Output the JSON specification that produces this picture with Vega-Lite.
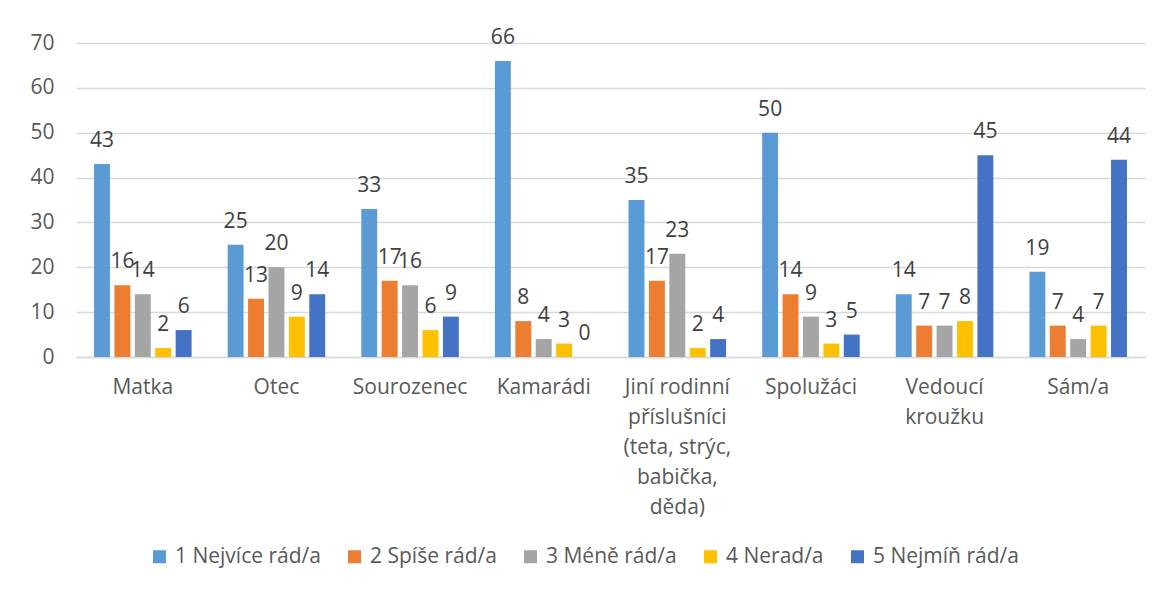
{
  "$schema": "https://vega.github.io/schema/vega-lite/v6.json",
  "width": 1069,
  "height": 314,
  "autosize": {"type": "none"},
  "padding": {"left": 76, "top": 43, "right": 18, "bottom": 233},
  "background": "white",
  "config": {
    "font": "Open Sans",
    "view": {"stroke": null}
  },
  "data": {
    "values": [
      {"kategorie": "Matka", "skupina": "1 Nejvíce rád/a", "pocet": 43},
      {"kategorie": "Matka", "skupina": "2 Spíše rád/a", "pocet": 16},
      {"kategorie": "Matka", "skupina": "3 Méně rád/a", "pocet": 14},
      {"kategorie": "Matka", "skupina": "4 Nerad/a", "pocet": 2},
      {"kategorie": "Matka", "skupina": "5 Nejmíň rád/a", "pocet": 6},
      {"kategorie": "Otec", "skupina": "1 Nejvíce rád/a", "pocet": 25},
      {"kategorie": "Otec", "skupina": "2 Spíše rád/a", "pocet": 13},
      {"kategorie": "Otec", "skupina": "3 Méně rád/a", "pocet": 20},
      {"kategorie": "Otec", "skupina": "4 Nerad/a", "pocet": 9},
      {"kategorie": "Otec", "skupina": "5 Nejmíň rád/a", "pocet": 14},
      {"kategorie": "Sourozenec", "skupina": "1 Nejvíce rád/a", "pocet": 33},
      {"kategorie": "Sourozenec", "skupina": "2 Spíše rád/a", "pocet": 17},
      {"kategorie": "Sourozenec", "skupina": "3 Méně rád/a", "pocet": 16},
      {"kategorie": "Sourozenec", "skupina": "4 Nerad/a", "pocet": 6},
      {"kategorie": "Sourozenec", "skupina": "5 Nejmíň rád/a", "pocet": 9},
      {"kategorie": "Kamarádi", "skupina": "1 Nejvíce rád/a", "pocet": 66},
      {"kategorie": "Kamarádi", "skupina": "2 Spíše rád/a", "pocet": 8},
      {"kategorie": "Kamarádi", "skupina": "3 Méně rád/a", "pocet": 4},
      {"kategorie": "Kamarádi", "skupina": "4 Nerad/a", "pocet": 3},
      {"kategorie": "Kamarádi", "skupina": "5 Nejmíň rád/a", "pocet": 0},
      {"kategorie": "Jiní rodinní příslušníci (teta, strýc, babička, děda)", "skupina": "1 Nejvíce rád/a", "pocet": 35},
      {"kategorie": "Jiní rodinní příslušníci (teta, strýc, babička, děda)", "skupina": "2 Spíše rád/a", "pocet": 17},
      {"kategorie": "Jiní rodinní příslušníci (teta, strýc, babička, děda)", "skupina": "3 Méně rád/a", "pocet": 23},
      {"kategorie": "Jiní rodinní příslušníci (teta, strýc, babička, děda)", "skupina": "4 Nerad/a", "pocet": 2},
      {"kategorie": "Jiní rodinní příslušníci (teta, strýc, babička, děda)", "skupina": "5 Nejmíň rád/a", "pocet": 4},
      {"kategorie": "Spolužáci", "skupina": "1 Nejvíce rád/a", "pocet": 50},
      {"kategorie": "Spolužáci", "skupina": "2 Spíše rád/a", "pocet": 14},
      {"kategorie": "Spolužáci", "skupina": "3 Méně rád/a", "pocet": 9},
      {"kategorie": "Spolužáci", "skupina": "4 Nerad/a", "pocet": 3},
      {"kategorie": "Spolužáci", "skupina": "5 Nejmíň rád/a", "pocet": 5},
      {"kategorie": "Vedoucí kroužku", "skupina": "1 Nejvíce rád/a", "pocet": 14},
      {"kategorie": "Vedoucí kroužku", "skupina": "2 Spíše rád/a", "pocet": 7},
      {"kategorie": "Vedoucí kroužku", "skupina": "3 Méně rád/a", "pocet": 7},
      {"kategorie": "Vedoucí kroužku", "skupina": "4 Nerad/a", "pocet": 8},
      {"kategorie": "Vedoucí kroužku", "skupina": "5 Nejmíň rád/a", "pocet": 45},
      {"kategorie": "Sám/a", "skupina": "1 Nejvíce rád/a", "pocet": 19},
      {"kategorie": "Sám/a", "skupina": "2 Spíše rád/a", "pocet": 7},
      {"kategorie": "Sám/a", "skupina": "3 Méně rád/a", "pocet": 4},
      {"kategorie": "Sám/a", "skupina": "4 Nerad/a", "pocet": 7},
      {"kategorie": "Sám/a", "skupina": "5 Nejmíň rád/a", "pocet": 44}
    ]
  },
  "encoding": {
    "x": {
      "field": "kategorie",
      "type": "nominal",
      "sort": null,
      "scale": {"paddingInner": 0.27, "paddingOuter": 0.135},
      "axis": {
        "title": null,
        "labelAngle": 0,
        "labelFont": "Open Sans",
        "labelFontSize": 21,
        "labelColor": "#595959",
        "labelLineHeight": 30,
        "labelPadding": 19,
        "labelBaseline": "top",
        "labelLimit": 300,
        "ticks": false,
        "domainColor": "#d9d9d9",
        "domainWidth": 1.5,
        "labelExpr": "datum.value == 'Jiní rodinní příslušníci (teta, strýc, babička, děda)' ? ['Jiní rodinní', 'příslušníci', '(teta, strýc,', 'babička,', 'děda)'] : datum.value == 'Vedoucí kroužku' ? ['Vedoucí', 'kroužku'] : datum.value"
      }
    },
    "xOffset": {
      "field": "skupina",
      "type": "nominal",
      "scale": {"paddingInner": 0.22}
    },
    "y": {
      "field": "pocet",
      "type": "quantitative",
      "scale": {"domain": [0, 70]},
      "axis": {
        "title": null,
        "values": [0, 10, 20, 30, 40, 50, 60, 70],
        "labelFont": "Open Sans",
        "labelFontSize": 21,
        "labelColor": "#595959",
        "labelPadding": 22,
        "ticks": false,
        "domain": false,
        "gridColor": "#d9d9d9",
        "gridWidth": 1.5
      }
    }
  },
  "layer": [
    {
      "mark": {"type": "bar"},
      "encoding": {
        "color": {
          "field": "skupina",
          "type": "nominal",
          "scale": {
            "domain": ["1 Nejvíce rád/a", "2 Spíše rád/a", "3 Méně rád/a", "4 Nerad/a", "5 Nejmíň rád/a"],
            "range": ["#5B9BD5", "#ED7D31", "#A5A5A5", "#FFC000", "#4472C4"]
          },
          "legend": {
            "title": null,
            "orient": "none",
            "direction": "horizontal",
            "legendX": 73,
            "legendY": 503,
            "symbolType": "square",
            "symbolSize": 169,
            "symbolStrokeWidth": 0,
            "symbolOpacity": 1,
            "labelFont": "Open Sans",
            "labelFontSize": 21,
            "labelColor": "#595959",
            "labelOffset": 5,
            "columnPadding": 23,
            "labelLimit": 300
          }
        }
      }
    },
    {
      "mark": {"type": "text", "baseline": "alphabetic", "dy": -17, "fontSize": 21, "font": "Open Sans", "color": "#404040"},
      "encoding": {
        "text": {"field": "pocet", "type": "quantitative"}
      }
    }
  ]
}
